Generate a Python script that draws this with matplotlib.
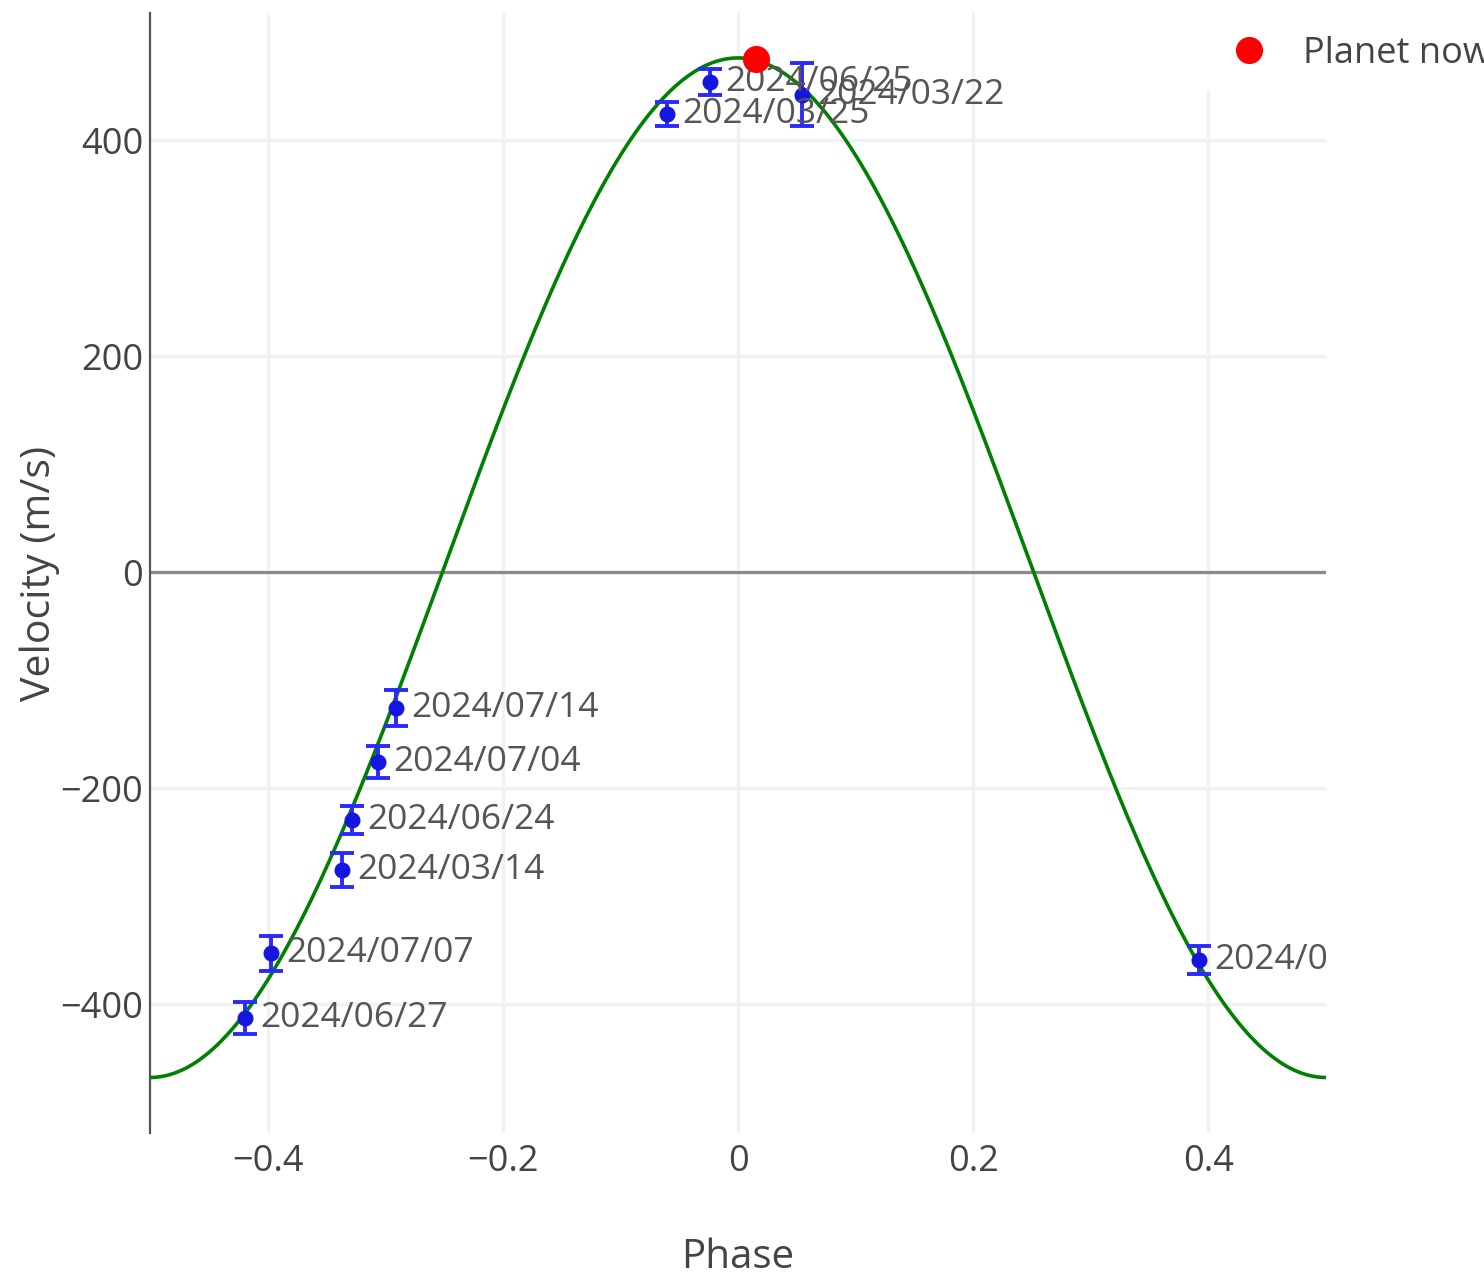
import matplotlib.pyplot as plt
from matplotlib.lines import Line2D
from matplotlib.patches import Rectangle
import numpy as np

# fitted orbit
K = 472.0
gamma = 4.0

# observations
dates = ['2024/06/25', '2024/03/25', '2024/03/22', '2024/07/14', '2024/07/04',
         '2024/06/24', '2024/03/14', '2024/07/07', '2024/06/27', '2024/04/04']
phase = np.array([-0.024, -0.060, 0.0546, -0.291, -0.3065,
                  -0.328, -0.337, -0.397, -0.419, 0.392])
velocity = np.array([454, 424, 442, -126, -176, -230, -276, -353, -413, -359])
error = np.array([12, 11, 29, 17, 15, 13, 16, 16, 15, 13])

# current planet position
now_phase = 0.0154
now_velocity = 475

plt.rcParams['font.family'] = ['Open Sans', 'DejaVu Sans']

fig = plt.figure(figsize=(14.84, 12.79), dpi=100)
ax = fig.add_axes([150 / 1484, 1 - 1133 / 1279, 1176 / 1484, 1120 / 1279])

x = np.linspace(-0.5, 0.5, 600)
ax.plot(x, K * np.cos(2 * np.pi * x) + gamma, color='green', lw=2.6, zorder=3)

ax.errorbar(phase, velocity, yerr=error, fmt='o', color='#1515e0', ecolor='#2a2aff',
            ms=10.5, elinewidth=2.8, capsize=8.5, capthick=2.8, zorder=4)

for p, v, d in zip(phase, velocity, dates):
    ax.annotate(d, (p, v), xytext=(11, 0), textcoords='offset points',
                va='center', ha='left', fontsize=25.5, color='#555555',
                clip_on=True, zorder=5, annotation_clip=True)

ax.plot([now_phase], [now_velocity], 'o', color='red', ms=18.5, zorder=6)

ax.axhline(0, color='#8a8a8a', lw=2.3, zorder=2)

ax.set_xlim(-0.5, 0.5)
ax.set_ylim(-519.4, 517.6)
ax.set_xticks([-0.4, -0.2, 0, 0.2, 0.4])
ax.set_xticklabels(['\u22120.4', '\u22120.2', '0', '0.2', '0.4'])
ax.set_yticks([-400, -200, 0, 200, 400])
ax.set_yticklabels(['\u2212400', '\u2212200', '0', '200', '400'])
ax.grid(True, color='#f1f1f1', lw=2.4, zorder=0)
ax.set_axisbelow(True)

for s in ['top', 'right', 'bottom']:
    ax.spines[s].set_visible(False)
ax.spines['left'].set_color('#555555')
ax.spines['left'].set_linewidth(1.6)
ax.tick_params(length=0, labelsize=26, labelcolor='#444444')
ax.tick_params(axis='x', pad=8)
ax.tick_params(axis='y', pad=5)

ax.set_xlabel('Phase', fontsize=29, color='#444444', va='center')
ax.xaxis.set_label_coords(0.5, (1133 - 1258) / 1120)
ax.set_ylabel('Velocity (m/s)', fontsize=29.5, color='#444444', va='center')
ax.yaxis.set_label_coords((40 - 150) / 1176, 0.5)

# white legend background covering the grid in the top-right corner
fig.patches.append(Rectangle((1195 / 1484, 1 - 90 / 1279), 289 / 1484, 90 / 1279,
                             transform=fig.transFigure, facecolor='white',
                             edgecolor='none', zorder=1))

handle = Line2D([], [], marker='o', color='red', ls='none', ms=18.5)
leg = fig.legend([handle], ['Planet now'], loc='center left',
                 bbox_to_anchor=(1231 / 1484, 1 - 54 / 1279), frameon=False,
                 fontsize=26, handlelength=1.0, handletextpad=1.0,
                 borderpad=0, borderaxespad=0)
leg.set_zorder(2)
for t in leg.get_texts():
    t.set_color('#444444')

fig.savefig('out.png', dpi=100)
